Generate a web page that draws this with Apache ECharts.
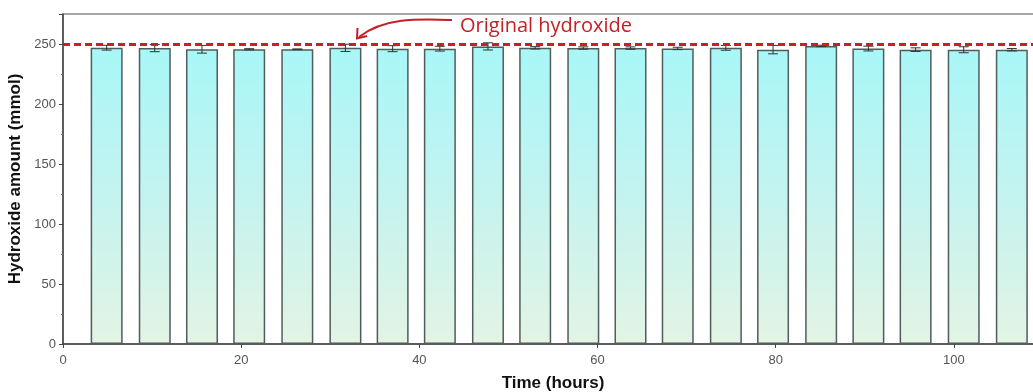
<!DOCTYPE html>
<html>
<head>
<meta charset="utf-8">
<script src="https://cdn.jsdelivr.net/npm/echarts@6/dist/echarts.min.js"></script>
<style>
  html, body { margin: 0; padding: 0; background: #fff; overflow: hidden; }
  #chart { width: 1033px; height: 392px; }
</style>
</head>
<body>
<div id="chart"></div>
<script>
// Sampling times (hours) of each measurement
const times = [4.9, 10.3, 15.6, 20.9, 26.3, 31.7, 37.0, 42.3, 47.7, 53.0,
               58.4, 63.7, 69.0, 74.4, 79.7, 85.1, 90.4, 95.7, 101.1, 106.5];
// Measured hydroxide amount (mmol)
const amounts = [246.9, 246.6, 245.6, 245.6, 245.6, 246.8, 246.1, 246.1, 248.0, 246.8,
                 246.6, 246.6, 246.3, 246.8, 245.3, 248.4, 246.2, 245.3, 245.2, 245.2];
// Standard deviation of each measurement (mmol)
const errors = [2.0, 3.0, 3.2, 0.5, 0.3, 3.0, 2.5, 2.0, 3.0, 1.0,
                1.0, 1.0, 1.0, 2.0, 3.5, 0.6, 2.0, 1.5, 2.5, 1.0];
// Initial hydroxide loading (mmol)
const originalHydroxide = 250;
const yTicks = [0, 50, 100, 150, 200, 250];

const chart = echarts.init(document.getElementById('chart'));

const barData = times.map((t, i) => [t, amounts[i]]);
const errData = times.map((t, i) => [t, amounts[i] - errors[i], amounts[i] + errors[i]]);

chart.setOption({
  animation: false,
  grid: {
    // the frame runs slightly past the right edge of the canvas
    left: 63, width: 980, top: 14, bottom: 48,
    outerBoundsMode: 'none',
    containLabel: false,
    show: true, borderColor: '#8a8a8a', borderWidth: 1.5
  },
  xAxis: {
    type: 'value', min: 0, max: 110, interval: 20,
    name: 'Time (hours)', nameLocation: 'middle', nameGap: 31,
    nameTextStyle: { fontFamily: 'Liberation Sans', fontWeight: 'bold', fontSize: 17, color: '#111' },
    axisLine: { show: true, onZero: false, lineStyle: { color: '#444', width: 1.5 } },
    axisTick: { show: true, inside: false, length: 4, lineStyle: { color: '#444' } },
    axisLabel: {
      color: '#555', fontFamily: 'Liberation Sans', fontSize: 13, margin: 10,
      formatter: v => (v % 20 === 0 && v <= 100 ? String(v) : '')
    },
    splitLine: { show: false }
  },
  yAxis: {
    type: 'value', min: 0, max: 275, interval: 50,
    name: 'Hydroxide amount (mmol)', nameLocation: 'middle', nameGap: 34, nameRotate: 90,
    nameTextStyle: { fontFamily: 'Liberation Sans', fontWeight: 'bold', fontSize: 17, color: '#111' },
    axisLine: { show: true, lineStyle: { color: '#444', width: 1.5 } },
    axisTick: { show: true, inside: false, length: 4, lineStyle: { color: '#444' } },
    minorTick: { show: true, splitNumber: 2, length: 2, lineStyle: { color: '#777' } },
    axisLabel: {
      color: '#555', fontFamily: 'Liberation Sans', fontSize: 13, margin: 7,
      formatter: v => (yTicks.includes(v) ? String(v) : '')
    },
    splitLine: { show: false }
  },
  series: [
    {
      type: 'bar',
      data: barData,
      barWidth: 32,
      itemStyle: {
        color: {
          type: 'linear', x: 0, y: 0, x2: 0, y2: 1,
          colorStops: [
            { offset: 0, color: '#a8f7f8' },
            { offset: 0.5, color: '#c4f3ef' },
            { offset: 1, color: '#e3f4e4' }
          ]
        },
        borderColor: '#4f5e5c',
        borderWidth: 1.5
      },
      markLine: {
        silent: true,
        symbol: 'none',
        label: { show: false },
        lineStyle: { color: '#cc1f1f', width: 3, type: [7, 4] },
        data: [{ yAxis: originalHydroxide }]
      },
      z: 2
    },
    {
      type: 'custom',
      data: errData,
      encode: { x: 0, y: [1, 2] },
      renderItem: function (params, api) {
        const x = api.value(0);
        const lo = api.coord([x, api.value(1)]);
        const hi = api.coord([x, api.value(2)]);
        const cap = 5;
        const style = { stroke: '#333', lineWidth: 1 };
        return {
          type: 'group',
          children: [
            { type: 'line', shape: { x1: lo[0], y1: lo[1], x2: hi[0], y2: hi[1] }, style },
            { type: 'line', shape: { x1: hi[0] - cap, y1: hi[1], x2: hi[0] + cap, y2: hi[1] }, style },
            { type: 'line', shape: { x1: lo[0] - cap, y1: lo[1], x2: lo[0] + cap, y2: lo[1] }, style }
          ]
        };
      },
      z: 3
    }
  ],
  graphic: [
    {
      type: 'text',
      left: 460, top: 16,
      style: {
        text: 'Original hydroxide',
        fill: '#c42026',
        font: '20px "Open Sans", sans-serif'
      },
      z: 10
    },
    {
      type: 'bezierCurve',
      shape: { x1: 452, y1: 20, cpx1: 420, cpy1: 19, cpx2: 385, cpy2: 17, x2: 359, y2: 37 },
      style: { stroke: '#c42026', lineWidth: 2, fill: null },
      z: 10
    },
    {
      type: 'polyline',
      shape: { points: [[357.5, 28], [357, 38.5], [367, 36]] },
      style: { stroke: '#c42026', lineWidth: 2, fill: null },
      z: 10
    }
  ]
});
</script>
</body>
</html>
